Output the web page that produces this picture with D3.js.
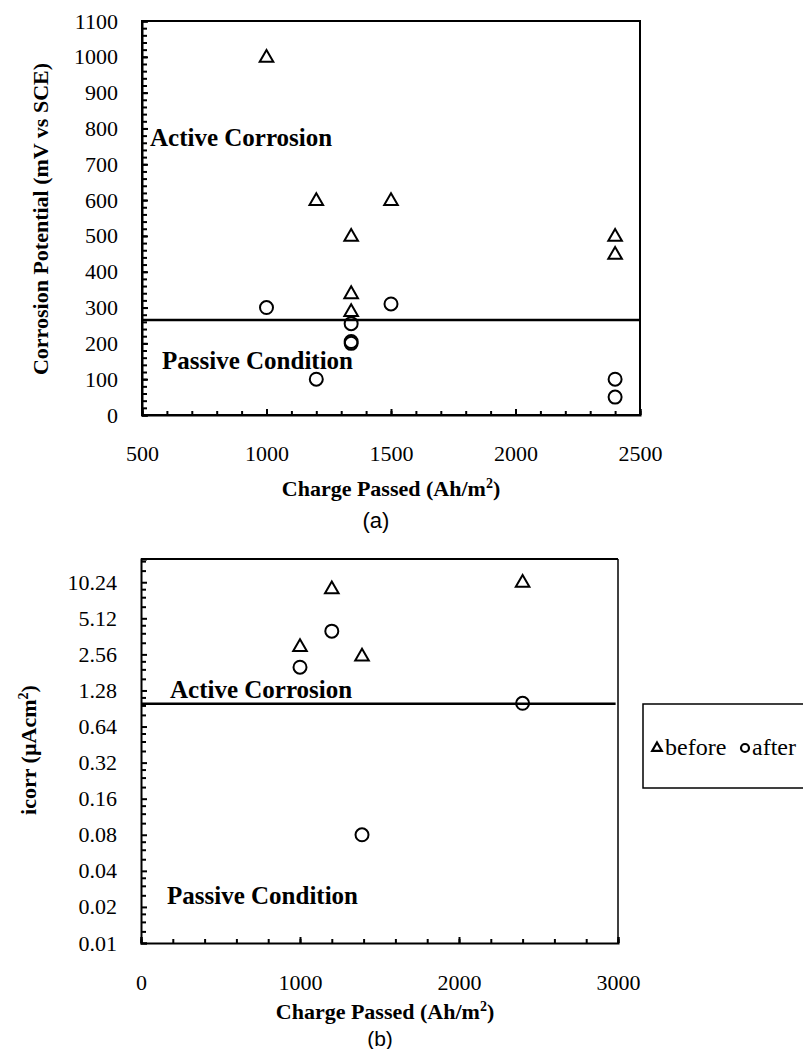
<!DOCTYPE html>
<html>
<head>
<meta charset="utf-8">
<script src="https://cdn.jsdelivr.net/npm/d3@7"></script>
<style>
body { margin: 0; background: #fff; }
svg { display: block; }
</style>
</head>
<body>
<script>
// chart (a) - corrosion potential
var chargeBeforeA = [1000, 1200, 1500, 1340, 1340, 1340, 2400, 2400];
var potBefore = [1000, 600, 600, 500, 340, 290, 500, 450];
var chargeAfterA = [1000, 1500, 1340, 1340, 1340, 1200, 2400, 2400];
var potAfter = [300, 310, 255, 205, 200, 100, 100, 50];
var potLimit = 265;
var xTicksA = [500, 1000, 1500, 2000, 2500];
var yTicksA = [0, 100, 200, 300, 400, 500, 600, 700, 800, 900, 1000, 1100];

// chart (b) - icorr, log2 axis
var chargeBeforeB = [1000, 1200, 1390, 2400];
var icorrBefore = [3.0, 9.1, 2.5, 10.3];
var chargeAfterB = [1000, 1200, 1390, 2400];
var icorrAfter = [2.0, 4.0, 0.08, 1.0];
var icorrLimit = 0.99;
var xTicksB = [0, 1000, 2000, 3000];
var yTicksB = [0.01, 0.02, 0.04, 0.08, 0.16, 0.32, 0.64, 1.28, 2.56, 5.12, 10.24];
var yLabelsB = ["0.01", "0.02", "0.04", "0.08", "0.16", "0.32", "0.64", "1.28", "2.56", "5.12", "10.24"];

var svg = d3.select("body").append("svg")
    .attr("width", 803)
    .attr("height", 1049);

var serif = "'Liberation Serif', 'Times New Roman', serif";
var tri = d3.symbol().type(d3.symbolTriangle).size(80);

// black inward ticks, serif labels
function styleAxis(g) {
    g.attr("font-family", null).attr("font-size", null);
    g.selectAll("line, path").attr("stroke", "#000").attr("stroke-width", 2);
    g.selectAll("text")
        .style("font-family", serif)
        .style("font-size", "22px")
        .attr("fill", "#000");
}
function triangles(g, xs, ys, x, y) {
    g.selectAll(null).data(xs).enter().append("path")
        .attr("d", tri)
        .attr("transform", (d, i) => "translate(" + x(d) + "," + (y(ys[i]) + 1) + ")")
        .attr("fill", "none")
        .attr("stroke", "#000")
        .attr("stroke-width", 2);
}
function circles(g, xs, ys, x, y) {
    g.selectAll(null).data(xs).enter().append("circle")
        .attr("cx", d => x(d))
        .attr("cy", (d, i) => y(ys[i]))
        .attr("r", 6.5)
        .attr("fill", "none")
        .attr("stroke", "#000")
        .attr("stroke-width", 2);
}
function label(txt, x, y, size, bold, rot, fam) {
    var t = svg.append("text")
        .attr("x", x).attr("y", y)
        .attr("text-anchor", "middle")
        .style("font-family", fam || serif)
        .style("font-size", size + "px")
        .attr("font-weight", bold ? "bold" : "normal")
        .text(txt);
    if (rot) t.attr("transform", "rotate(-90," + x + "," + y + ")");
    return t;
}
function note(txt, x, y) {
    svg.append("text").attr("x", x).attr("y", y)
        .style("font-family", serif).style("font-size", "25px").attr("font-weight", "bold")
        .text(txt);
}
function sup(t) {
    t.append("tspan").style("font-size", "14px").attr("dy", -8).text("2");
    t.append("tspan").attr("dy", 8).text(")");
}

// ---------------- (a) ----------------
var xA = d3.scaleLinear().domain([500, 2500]).range([142, 640]);
var yA = d3.scaleLinear().domain([0, 1100]).range([415, 21]);

var gA = svg.append("g");
gA.append("rect")
    .attr("x", xA(500)).attr("y", yA(1100))
    .attr("width", xA(2500) - xA(500)).attr("height", yA(0) - yA(1100))
    .attr("fill", "none").attr("stroke", "#000").attr("stroke-width", 2);

gA.append("g")
    .attr("transform", "translate(" + xA(500) + ",0)")
    .call(d3.axisLeft(yA).tickValues(d3.range(0, 1101, 20)).tickSize(-5).tickFormat(""))
    .call(g => g.select(".domain").remove())
    .call(styleAxis);
gA.append("g")
    .attr("transform", "translate(" + xA(500) + ",0)")
    .call(d3.axisLeft(yA).tickValues(yTicksA).tickSize(-6).tickPadding(24).tickFormat(d3.format("d")))
    .call(styleAxis);

gA.append("g")
    .attr("transform", "translate(0," + yA(0) + ")")
    .call(d3.axisBottom(xA).tickValues(d3.range(500, 2501, 100)).tickSize(-4).tickFormat(""))
    .call(g => g.select(".domain").remove())
    .call(styleAxis);
gA.append("g")
    .attr("transform", "translate(0," + yA(0) + ")")
    .call(d3.axisBottom(xA).tickValues(xTicksA).tickSize(-6).tickPadding(30).tickFormat(d3.format("d")))
    .call(styleAxis);

gA.append("line")
    .attr("x1", xA(500)).attr("x2", xA(2500))
    .attr("y1", yA(potLimit)).attr("y2", yA(potLimit))
    .attr("stroke", "#000").attr("stroke-width", 2.5);

triangles(gA, chargeBeforeA, potBefore, xA, yA);
circles(gA, chargeAfterA, potAfter, xA, yA);

note("Active Corrosion", 150, 146);
note("Passive Condition", 162, 369);

sup(label("Charge Passed (Ah/m", 391, 496, 22, true));
label("Corrosion Potential (mV vs SCE)", 48, 219, 22, true, true);
label("(a)", 376, 528, 22, false, false, "'Liberation Sans', Arial, sans-serif");

// ---------------- (b) ----------------
var xB = d3.scaleLinear().domain([0, 3000]).range([141, 618]);
var yB = d3.scaleLog().base(2).domain([0.01, 16]).range([943, 559]);

var gB = svg.append("g");
gB.append("line").attr("x1", xB(0)).attr("x2", xB(3000)).attr("y1", yB(16)).attr("y2", yB(16))
    .attr("stroke", "#000").attr("stroke-width", 2);
gB.append("line").attr("x1", xB(3000)).attr("x2", xB(3000)).attr("y1", yB(16)).attr("y2", yB(0.01))
    .attr("stroke", "#000").attr("stroke-width", 1.5);

var minorB = [];
yTicksB.forEach(v => [1.25, 1.5, 1.75].forEach(m => { if (v * m < 16) minorB.push(v * m); }));
gB.append("g")
    .attr("transform", "translate(" + xB(0) + ",0)")
    .call(d3.axisLeft(yB).tickValues(minorB).tickSize(-5).tickFormat(""))
    .call(g => g.select(".domain").remove())
    .call(styleAxis);
gB.append("g")
    .attr("transform", "translate(" + xB(0) + ",0)")
    .call(d3.axisLeft(yB).tickValues(yTicksB).tickSize(-6).tickPadding(24)
        .tickFormat((d, i) => yLabelsB[i]))
    .call(styleAxis);

gB.append("g")
    .attr("transform", "translate(0," + yB(0.01) + ")")
    .call(d3.axisBottom(xB).tickValues(d3.range(0, 3001, 200)).tickSize(-4).tickFormat(""))
    .call(g => g.select(".domain").remove())
    .call(styleAxis);
gB.append("g")
    .attr("transform", "translate(0," + yB(0.01) + ")")
    .call(d3.axisBottom(xB).tickValues(xTicksB).tickSize(-6).tickPadding(31).tickFormat(d3.format("d")))
    .call(styleAxis);

gB.append("line")
    .attr("x1", xB(0)).attr("x2", xB(2985))
    .attr("y1", yB(icorrLimit)).attr("y2", yB(icorrLimit))
    .attr("stroke", "#000").attr("stroke-width", 2.5);

triangles(gB, chargeBeforeB, icorrBefore, xB, yB);
circles(gB, chargeAfterB, icorrAfter, xB, yB);

note("Active Corrosion", 170, 698);
note("Passive Condition", 167, 904);

sup(label("Charge Passed (Ah/m", 385, 1019, 22, true));
sup(label("icorr (µAcm", 36, 750, 22, true, true));
label("(b)", 380, 1046, 21, false, false, "'Liberation Sans', Arial, sans-serif");

// legend
var lg = svg.append("g");
lg.append("rect").attr("x", 643).attr("y", 704).attr("width", 170).attr("height", 84)
    .attr("fill", "none").attr("stroke", "#000").attr("stroke-width", 1.5);
lg.append("path").attr("d", d3.symbol().type(d3.symbolTriangle).size(40))
    .attr("transform", "translate(657,748)")
    .attr("fill", "none").attr("stroke", "#000").attr("stroke-width", 2.2);
lg.append("text").attr("x", 665).attr("y", 755)
    .style("font-family", serif).style("font-size", "24px").text("before");
lg.append("circle").attr("cx", 745).attr("cy", 748).attr("r", 4)
    .attr("fill", "none").attr("stroke", "#000").attr("stroke-width", 2.2);
lg.append("text").attr("x", 752).attr("y", 755)
    .style("font-family", serif).style("font-size", "24px").text("after");
</script>
</body>
</html>
